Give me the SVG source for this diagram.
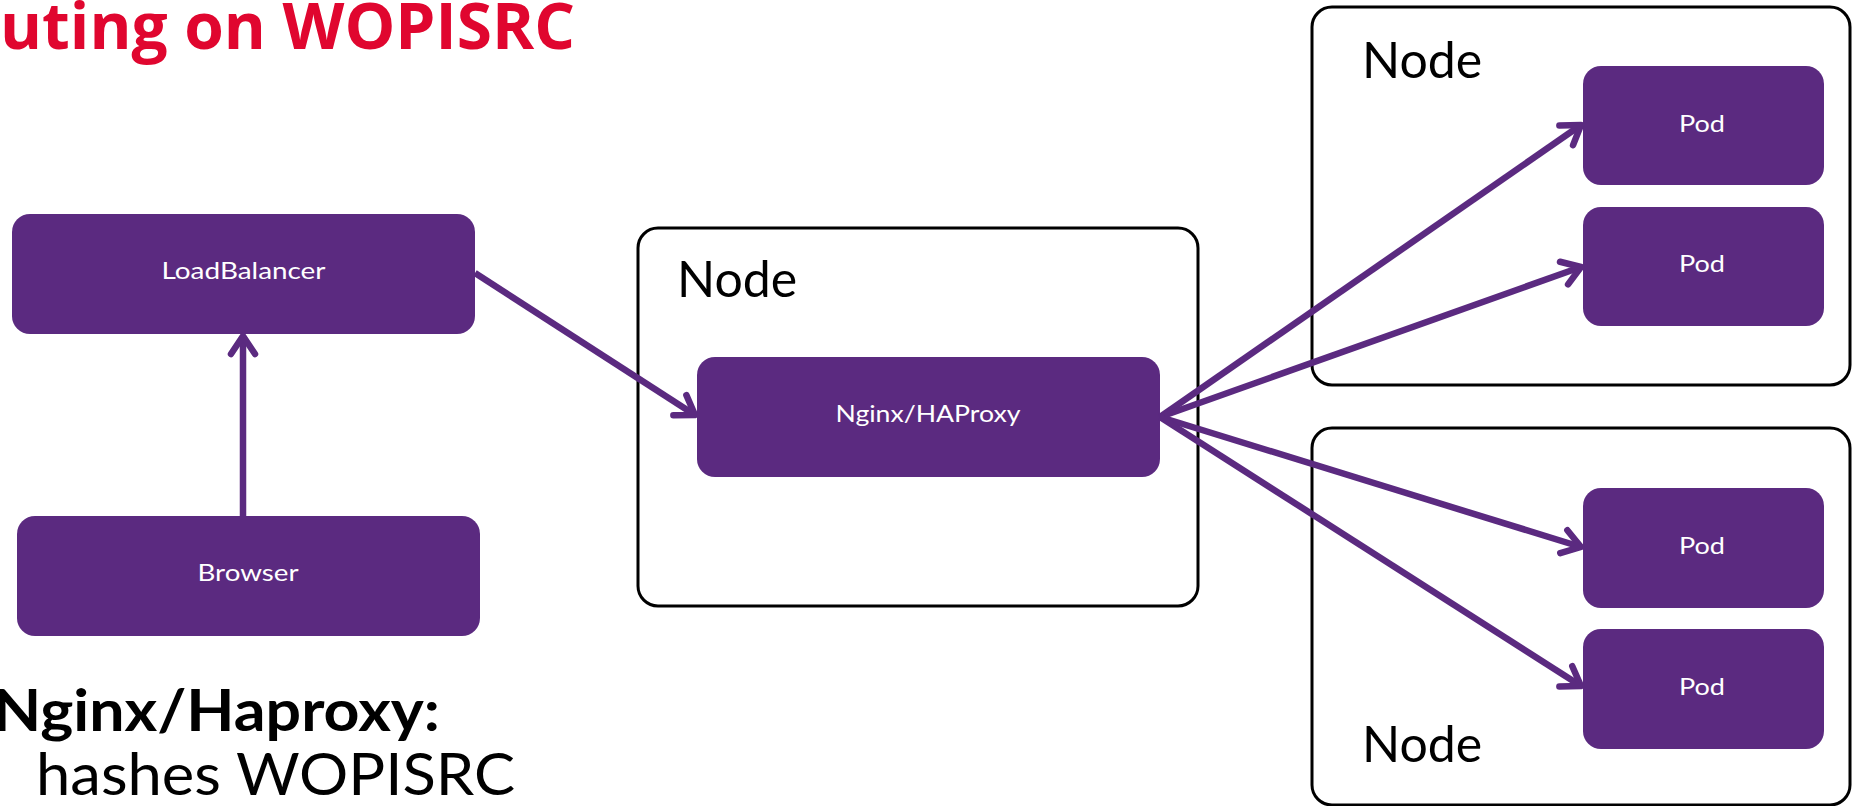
<svg xmlns="http://www.w3.org/2000/svg" width="1856" height="806" viewBox="0 0 1856 806">
  <style>
    .box { fill: #5b2a80; }
    .lbl { font-family: Lato, "Liberation Sans", sans-serif; font-size: 24px; fill: #ffffff; text-anchor: middle; }
    .frame { fill: #ffffff; stroke: #000000; stroke-width: 3; }
    .nodelbl { font-family: Lato, "Liberation Sans", sans-serif; font-size: 50px; fill: #000000; }
    .conn { stroke: #5b2a80; stroke-width: 6.5; fill: none; marker-end: url(#arr); }
  </style>
  <defs>
    <marker id="arr" markerUnits="userSpaceOnUse" viewBox="-25 -16 30 32" refX="0" refY="0" markerWidth="30" markerHeight="32" orient="auto" overflow="visible">
      <path d="M-18,-12 L0,0 L-18,12" fill="none" stroke="#5b2a80" stroke-width="6.5" stroke-linecap="round" stroke-linejoin="round"/>
    </marker>
  </defs>
  <rect width="1856" height="806" fill="#ffffff"/>

  <text x="0" y="49" font-family="'Open Sans', 'Liberation Sans', sans-serif" font-weight="bold" font-size="64" fill="#e0062f">uting on WOPISRC</text>

  <g id="node-middle">
    <rect class="frame" x="638" y="228" width="560" height="378" rx="20"/>
    <text class="nodelbl" x="677" y="297">Node</text>
  </g>
  <g id="node-top">
    <rect class="frame" x="1312" y="7" width="538" height="378" rx="20"/>
    <text class="nodelbl" x="1362" y="78">Node</text>
  </g>
  <g id="node-bottom">
    <rect class="frame" x="1312" y="428" width="538" height="377" rx="20"/>
    <text class="nodelbl" x="1362" y="762">Node</text>
  </g>

  <g id="loadbalancer">
    <rect class="box" x="12" y="214" width="463" height="120" rx="18"/>
    <text class="lbl" x="243.5" y="279" textLength="164" lengthAdjust="spacingAndGlyphs">LoadBalancer</text>
  </g>
  <g id="browser">
    <rect class="box" x="17" y="516" width="463" height="120" rx="18"/>
    <text class="lbl" x="248" y="581" textLength="101" lengthAdjust="spacingAndGlyphs">Browser</text>
  </g>
  <g id="nginx">
    <rect class="box" x="697" y="357" width="463" height="120" rx="18"/>
    <text class="lbl" x="928" y="422" textLength="185" lengthAdjust="spacingAndGlyphs">Nginx/HAProxy</text>
  </g>
  <g id="pod1">
    <rect class="box" x="1583" y="66" width="241" height="119" rx="18"/>
    <text class="lbl" x="1702" y="132" textLength="46" lengthAdjust="spacingAndGlyphs">Pod</text>
  </g>
  <g id="pod2">
    <rect class="box" x="1583" y="207" width="241" height="119" rx="18"/>
    <text class="lbl" x="1702" y="272" textLength="46" lengthAdjust="spacingAndGlyphs">Pod</text>
  </g>
  <g id="pod3">
    <rect class="box" x="1583" y="488" width="241" height="120" rx="18"/>
    <text class="lbl" x="1702" y="554" textLength="46" lengthAdjust="spacingAndGlyphs">Pod</text>
  </g>
  <g id="pod4">
    <rect class="box" x="1583" y="629" width="241" height="120" rx="18"/>
    <text class="lbl" x="1702" y="695" textLength="46" lengthAdjust="spacingAndGlyphs">Pod</text>
  </g>

  <g id="connectors">
    <line class="conn" x1="243" y1="516" x2="243" y2="336"/>
    <line class="conn" x1="475" y1="273" x2="695" y2="415"/>
    <line class="conn" x1="1160" y1="417" x2="1581" y2="125"/>
    <line class="conn" x1="1160" y1="417" x2="1581" y2="267"/>
    <line class="conn" x1="1160" y1="417" x2="1581" y2="547"/>
    <line class="conn" x1="1160" y1="417" x2="1581" y2="686"/>
  </g>

  <g id="notes" font-family="Lato, 'Liberation Sans', sans-serif" fill="#000000">
    <text x="-7" y="731" font-size="58" font-weight="bold" textLength="447" lengthAdjust="spacingAndGlyphs">Nginx/Haproxy:</text>
    <text x="36" y="795" font-size="59" textLength="479" lengthAdjust="spacingAndGlyphs">hashes WOPISRC</text>
  </g>
</svg>
